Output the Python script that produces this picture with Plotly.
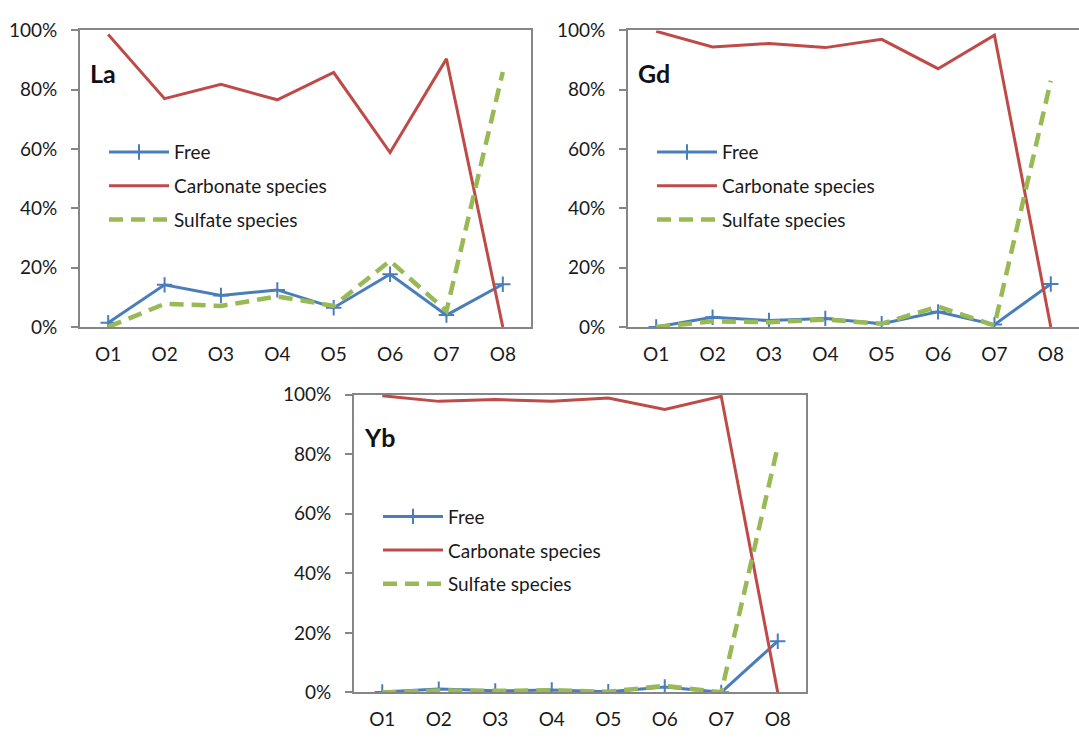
import plotly.graph_objects as go

# Sampling points
categories = ["O1", "O2", "O3", "O4", "O5", "O6", "O7", "O8"]

# Species distribution (fraction of total) per element
la_free = [0.014, 0.142, 0.106, 0.125, 0.065, 0.178, 0.040, 0.144]
la_carbonate = [0.986, 0.770, 0.818, 0.766, 0.858, 0.588, 0.904, 0.0]
la_sulfate = [0.0, 0.078, 0.071, 0.103, 0.071, 0.223, 0.054, 0.860]

gd_free = [0.0, 0.033, 0.022, 0.029, 0.011, 0.051, 0.008, 0.145]
gd_carbonate = [0.997, 0.944, 0.956, 0.942, 0.970, 0.871, 0.984, 0.0]
gd_sulfate = [0.0, 0.019, 0.016, 0.025, 0.011, 0.069, 0.005, 0.830]

yb_free = [0.001, 0.011, 0.005, 0.008, 0.002, 0.018, 0.0, 0.172]
yb_carbonate = [0.997, 0.978, 0.984, 0.978, 0.989, 0.951, 0.995, 0.0]
yb_sulfate = [0.0, 0.006, 0.005, 0.007, 0.002, 0.022, 0.0, 0.826]

elements = ["La", "Gd", "Yb"]
series_names = ["Free", "Carbonate species", "Sulfate species"]

BLUE = "#4A7EBB"
RED = "#BE4B48"
GREEN = "#98B954"
GRID = "#868686"
TEXT = "#1a1a1a"
FONT = "Lato"

W, H = 1079, 746

# panel boxes in pixels: left, top, right, bottom
panels = [
    (80, 19, 531, 325),
    (628, 19, 1079, 325),
    (354, 395, 806, 702),
]
data = [
    (la_free, la_carbonate, la_sulfate),
    (gd_free, gd_carbonate, gd_sulfate),
    (yb_free, yb_carbonate, yb_sulfate),
]

fig = go.Figure()
layout = dict(
    width=W, height=H, autosize=False,
    margin=dict(l=0, r=0, t=0, b=0),
    paper_bgcolor="white", plot_bgcolor="white",
    font=dict(family=FONT, size=19, color=TEXT),
    annotations=[],
)

for i, ((l, t, r, b), (free, carb, sulf), el) in enumerate(zip(panels, data, elements)):
    n = "" if i == 0 else str(i + 1)
    xa, ya = "x" + n, "y" + n
    lg = "legend" + n
    fig.add_trace(go.Scatter(
        x=categories, y=free, name=series_names[0], mode="lines+markers",
        line=dict(color=BLUE, width=3),
        marker=dict(symbol="cross-thin", size=11, line=dict(color=BLUE, width=2)),
        xaxis=xa, yaxis=ya, legend=lg, legendgroup=f"f{i}",
    ))
    fig.add_trace(go.Scatter(
        x=categories, y=carb, name=series_names[1], mode="lines",
        line=dict(color=RED, width=3),
        xaxis=xa, yaxis=ya, legend=lg, legendgroup=f"c{i}",
    ))
    fig.add_trace(go.Scatter(
        x=categories, y=sulf, name=series_names[2], mode="lines",
        line=dict(color=GREEN, width=4.5, dash="14px,8px"),
        xaxis=xa, yaxis=ya, legend=lg, legendgroup=f"s{i}",
    ))

    # the right-hand panel runs off the page edge, so its right border is not drawn
    right_edge = i != 1
    xdom = [l / W, r / W]
    ydom = [1 - b / H, 1 - t / H]
    layout["xaxis" + n] = dict(
        domain=xdom, anchor=ya, type="category", range=[-0.5, 7.5],
        showline=True, linecolor=GRID, linewidth=2, mirror=True,
        showgrid=False, ticks="", tickfont=dict(size=19, color=TEXT),
        ticklabelstandoff=9, zeroline=False, fixedrange=True,
    )
    layout["yaxis" + n] = dict(
        domain=ydom, anchor=xa, range=[0, 1],
        tickvals=[0, 0.2, 0.4, 0.6, 0.8, 1.0], tickformat=".0%",
        showline=True, linecolor=GRID, linewidth=2, mirror=right_edge,
        showgrid=False, ticks="outside", ticklen=7, tickwidth=2, tickcolor=GRID,
        tickfont=dict(size=19, color=TEXT), ticklabelstandoff=10,
        zeroline=False, fixedrange=True,
    )
    layout[lg] = dict(
        x=(l + 24) / W, y=1 - (t + 106) / H, xanchor="left", yanchor="top",
        bgcolor="rgba(0,0,0,0)", borderwidth=0,
        font=dict(family=FONT, size=19, color=TEXT),
        traceorder="grouped", tracegroupgap=6, itemwidth=60,
    )
    layout["annotations"].append(dict(
        text=f"<b>{el}</b>", xref="paper", yref="paper",
        x=(l + 8) / W, y=1 - (t + 44) / H, xanchor="left", yanchor="middle",
        showarrow=False, font=dict(family=FONT, size=25, color="#111111"),
    ))

fig.update_layout(**layout)
fig.write_html("out.html")
